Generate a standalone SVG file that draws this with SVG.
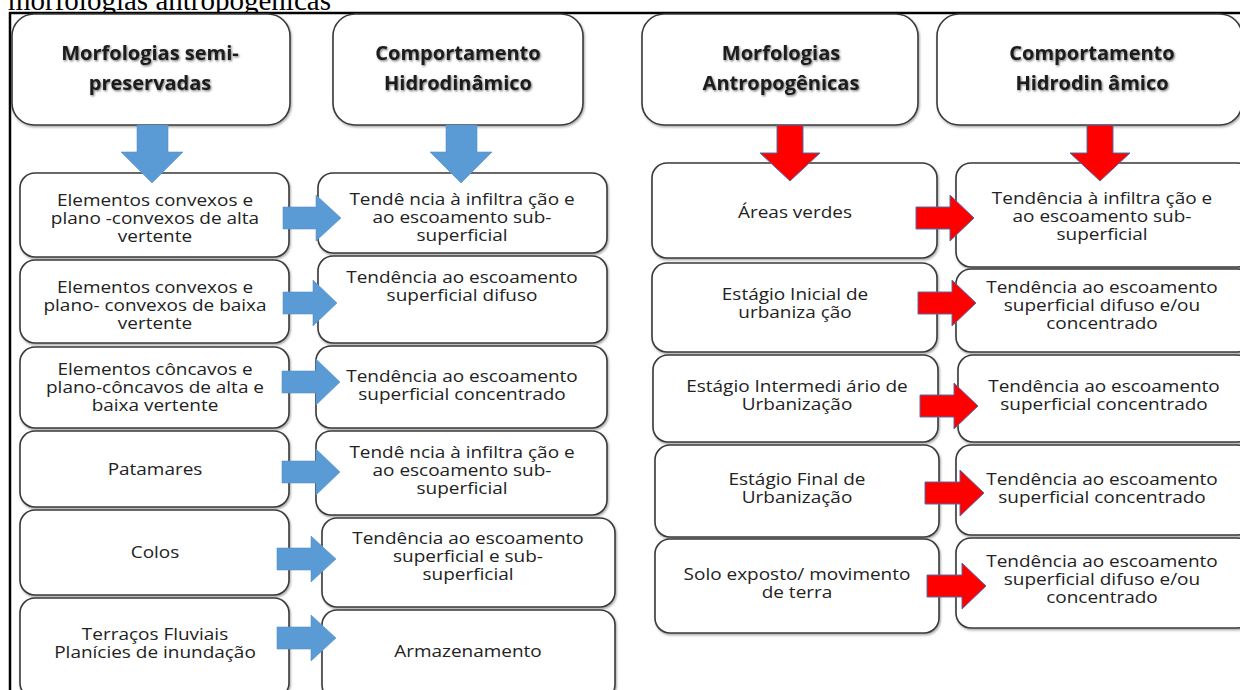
<svg xmlns="http://www.w3.org/2000/svg" width="1240" height="690" viewBox="0 0 1240 690">
<defs>
<filter id="sh" x="-5%" y="-5%" width="110%" height="115%"><feDropShadow dx="1" dy="1.5" stdDeviation="0.8" flood-color="#000" flood-opacity="0.35"/></filter>
<filter id="tsh" x="-5%" y="-20%" width="110%" height="140%"><feDropShadow dx="1" dy="1.2" stdDeviation="1" flood-color="#000" flood-opacity="0.55"/></filter>
</defs>
<style>
.box{fill:#fff;stroke:#3a3a3a;stroke-width:1.6;filter:url(#sh)}
.hd{font-family:"Open Sans","Liberation Sans",sans-serif;font-weight:700;font-size:20px;fill:#1c1c1c;text-anchor:middle;filter:url(#tsh)}
.tx{font-family:"Open Sans","Liberation Sans",sans-serif;font-size:16.5px;fill:#222;text-anchor:middle}
.ab{fill:#5b9bd5;stroke:#5592cc;stroke-width:0.6}
.ar{fill:#ff0000;stroke:#4f6fa8;stroke-width:1}
.frame{stroke:#000;stroke-width:2.5;fill:none}
</style>
<rect width="1240" height="690" fill="#fff"/>
<text x="8" y="10" font-family="Liberation Serif, serif" font-size="29" fill="#000">morfologias antropogênicas</text>
<rect x="10" y="13" width="1230" height="677" fill="#fff"/>
<path class="frame" d="M9,13 H1240 M10,12 V690"/>

<g id="h1"><rect class="box" x="12" y="14" width="278" height="111" rx="22"/><text class="hd"><tspan x="150" y="60">Morfologias semi-</tspan><tspan x="150" y="90">preservadas</tspan></text></g>
<g id="h2"><rect class="box" x="333" y="14" width="250" height="111" rx="22"/><text class="hd"><tspan x="458" y="60">Comportamento</tspan><tspan x="458" y="90">Hidrodinâmico</tspan></text></g>
<g id="h3"><rect class="box" x="642" y="14" width="276" height="111" rx="22"/><text class="hd"><tspan x="781" y="60">Morfologias</tspan><tspan x="781" y="90">Antropogênicas</tspan></text></g>
<g id="h4"><rect class="box" x="937" y="14" width="305" height="111" rx="22"/><text class="hd"><tspan x="1092" y="60">Comportamento</tspan><tspan x="1092" y="90">Hidrodin âmico</tspan></text></g>

<g id="l1"><rect class="box" x="20" y="173" width="269" height="84" rx="15"/><text class="tx" transform="matrix(1.15 0 0 1 155 0)"><tspan x="0" y="206">Elementos convexos e</tspan><tspan x="0" y="224">plano -convexos de alta</tspan><tspan x="0" y="242">vertente</tspan></text></g>
<g id="l2"><rect class="box" x="20" y="260" width="269" height="83" rx="15"/><text class="tx" transform="matrix(1.15 0 0 1 155 0)"><tspan x="0" y="293">Elementos convexos e</tspan><tspan x="0" y="311">plano- convexos de baixa</tspan><tspan x="0" y="329">vertente</tspan></text></g>
<g id="l3"><rect class="box" x="20" y="347" width="269" height="81" rx="15"/><text class="tx" transform="matrix(1.15 0 0 1 155 0)"><tspan x="0" y="375">Elementos côncavos e</tspan><tspan x="0" y="393">plano-côncavos de alta e</tspan><tspan x="0" y="411">baixa vertente</tspan></text></g>
<g id="l4"><rect class="box" x="20" y="431" width="269" height="76" rx="15"/><text class="tx" transform="matrix(1.15 0 0 1 155 0)"><tspan x="0" y="475">Patamares</tspan></text></g>
<g id="l5"><rect class="box" x="20" y="510" width="269" height="85" rx="15"/><text class="tx" transform="matrix(1.15 0 0 1 155 0)"><tspan x="0" y="558">Colos</tspan></text></g>
<g id="l6"><rect class="box" x="20" y="598" width="269" height="100" rx="15"/><text class="tx" transform="matrix(1.15 0 0 1 155 0)"><tspan x="0" y="640">Terraços Fluviais</tspan><tspan x="0" y="658">Planícies de inundação</tspan></text></g>

<g id="c1"><rect class="box" x="318" y="173" width="289" height="80" rx="15"/><text class="tx" transform="matrix(1.15 0 0 1 462 0)"><tspan x="0" y="205">Tendê ncia à infiltra ção e</tspan><tspan x="0" y="223">ao escoamento sub-</tspan><tspan x="0" y="241">superficial</tspan></text></g>
<g id="c2"><rect class="box" x="318" y="256" width="289" height="87" rx="15"/><text class="tx" transform="matrix(1.15 0 0 1 462 0)"><tspan x="0" y="283">Tendência ao escoamento</tspan><tspan x="0" y="301">superficial difuso</tspan></text></g>
<g id="c3"><rect class="box" x="316" y="346" width="291" height="82" rx="15"/><text class="tx" transform="matrix(1.15 0 0 1 462 0)"><tspan x="0" y="382">Tendência ao escoamento</tspan><tspan x="0" y="400">superficial concentrado</tspan></text></g>
<g id="c4"><rect class="box" x="316" y="431" width="291" height="84" rx="15"/><text class="tx" transform="matrix(1.15 0 0 1 462 0)"><tspan x="0" y="458">Tendê ncia à infiltra ção e</tspan><tspan x="0" y="476">ao escoamento sub-</tspan><tspan x="0" y="494">superficial</tspan></text></g>
<g id="c5"><rect class="box" x="322" y="518" width="293" height="89" rx="15"/><text class="tx" transform="matrix(1.15 0 0 1 468 0)"><tspan x="0" y="544">Tendência ao escoamento</tspan><tspan x="0" y="562">superficial e sub-</tspan><tspan x="0" y="580">superficial</tspan></text></g>
<g id="c6"><rect class="box" x="322" y="610" width="293" height="90" rx="15"/><text class="tx" transform="matrix(1.15 0 0 1 468 0)"><tspan x="0" y="657">Armazenamento</tspan></text></g>

<g id="m1"><rect class="box" x="652" y="163" width="285" height="95" rx="15"/><text class="tx" transform="matrix(1.15 0 0 1 795 0)"><tspan x="0" y="218">Áreas verdes</tspan></text></g>
<g id="m2"><rect class="box" x="652" y="263" width="285" height="89" rx="15"/><text class="tx" transform="matrix(1.15 0 0 1 795 0)"><tspan x="0" y="300">Estágio Inicial de</tspan><tspan x="0" y="318">urbaniza ção</tspan></text></g>
<g id="m3"><rect class="box" x="653" y="355" width="285" height="87" rx="15"/><text class="tx" transform="matrix(1.15 0 0 1 797 0)"><tspan x="0" y="392">Estágio Intermedi ário de</tspan><tspan x="0" y="410">Urbanização</tspan></text></g>
<g id="m4"><rect class="box" x="655" y="445" width="284" height="92" rx="15"/><text class="tx" transform="matrix(1.15 0 0 1 797 0)"><tspan x="0" y="485">Estágio Final de</tspan><tspan x="0" y="503">Urbanização</tspan></text></g>
<g id="m5"><rect class="box" x="655" y="539" width="284" height="94" rx="15"/><text class="tx" transform="matrix(1.15 0 0 1 797 0)"><tspan x="0" y="580">Solo exposto/ movimento</tspan><tspan x="0" y="598">de terra</tspan></text></g>

<g id="n1"><rect class="box" x="956" y="163" width="296" height="104" rx="15"/><text class="tx" transform="matrix(1.15 0 0 1 1102 0)"><tspan x="0" y="204">Tendência à infiltra ção e</tspan><tspan x="0" y="222">ao escoamento sub-</tspan><tspan x="0" y="240">superficial</tspan></text></g>
<g id="n2"><rect class="box" x="956" y="269" width="296" height="83" rx="15"/><text class="tx" transform="matrix(1.15 0 0 1 1102 0)"><tspan x="0" y="293">Tendência ao escoamento</tspan><tspan x="0" y="311">superficial difuso e/ou</tspan><tspan x="0" y="329">concentrado</tspan></text></g>
<g id="n3"><rect class="box" x="958" y="355" width="294" height="87" rx="15"/><text class="tx" transform="matrix(1.15 0 0 1 1104 0)"><tspan x="0" y="392">Tendência ao escoamento</tspan><tspan x="0" y="410">superficial concentrado</tspan></text></g>
<g id="n4"><rect class="box" x="956" y="445" width="296" height="90" rx="15"/><text class="tx" transform="matrix(1.15 0 0 1 1102 0)"><tspan x="0" y="485">Tendência ao escoamento</tspan><tspan x="0" y="503">superficial concentrado</tspan></text></g>
<g id="n5"><rect class="box" x="956" y="538" width="296" height="90" rx="15"/><text class="tx" transform="matrix(1.15 0 0 1 1102 0)"><tspan x="0" y="567">Tendência ao escoamento</tspan><tspan x="0" y="585">superficial difuso e/ou</tspan><tspan x="0" y="603">concentrado</tspan></text></g>

<g id="connectors">
<path class="ab" d="M137,125 H168 V152 H183 L152,183 L121,152 H137 Z"/>
<path class="ab" d="M446,125 H477 V152 H492 L461,183 L430,152 H446 Z"/>
<path class="ar" d="M777,125 H803 V153 H820 L790,181 L760,153 H777 Z"/>
<path class="ar" d="M1087,125 H1113 V153 H1130 L1100,181 L1070,153 H1087 Z"/>
<path class="ab" d="M283,207 H316 V195 L341,218 L316,241 V229 H283 Z"/>
<path class="ab" d="M283,292 H313 V280 L337,303 L313,326 V314 H283 Z"/>
<path class="ab" d="M282,371 H316 V359 L340,382 L316,405 V393 H282 Z"/>
<path class="ab" d="M282,461 H316 V449 L340,472 L316,495 V483 H282 Z"/>
<path class="ab" d="M277,548 H311 V536 L336,559 L311,582 V570 H277 Z"/>
<path class="ab" d="M277,627 H311 V615 L336,638 L311,661 V649 H277 Z"/>
<path class="ar" d="M916,207 H950 V195 L974,218 L950,241 V229 H916 Z"/>
<path class="ar" d="M918,292 H952 V280 L976,303 L952,326 V314 H918 Z"/>
<path class="ar" d="M920,395 H954 V383 L978,406 L954,429 V417 H920 Z"/>
<path class="ar" d="M925,482 H960 V470 L984,493 L960,516 V504 H925 Z"/>
<path class="ar" d="M927,575 H962 V563 L986,586 L962,609 V597 H927 Z"/>
</g>
</svg>
